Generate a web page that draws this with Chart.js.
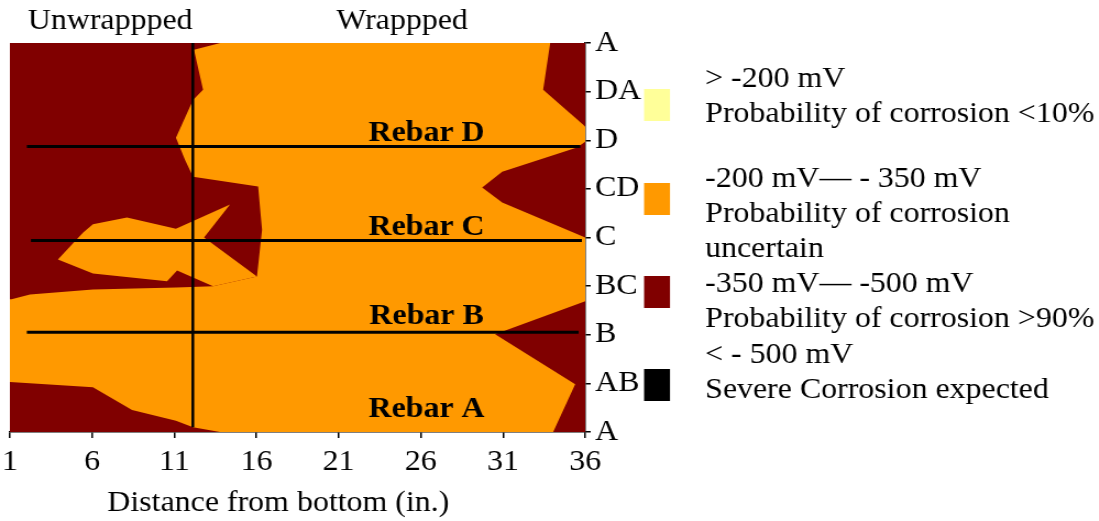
<!DOCTYPE html>
<html>
<head>
<meta charset="utf-8">
<script src="https://cdn.jsdelivr.net/npm/chart.js@4.4.1/dist/chart.umd.min.js"></script>
<style>
  html,body{margin:0;padding:0;background:#fff;overflow:hidden}
  #wrap{position:absolute;left:0;top:0;width:999px;height:521px;transform:scaleX(1.1);transform-origin:0 0}
  #warm{position:absolute;left:-9999px;top:0;font-family:"Liberation Serif";font-size:29px}
  #warm b{font-weight:bold}
</style>
</head>
<body>
<div id="warm">Aa <b>Bb</b></div>
<div id="wrap"><canvas id="ch" width="999" height="521"></canvas></div>
<script>
const F = '"Liberation Serif", "Times New Roman", Times, serif';
const ORANGE = '#FF9900', RED = '#800000';

// axes
const xTicks = [1, 6, 11, 16, 21, 26, 31, 36];
const yTickLabels = ['A', 'AB', 'B', 'BC', 'C', 'CD', 'D', 'DA', 'A'];

// contour outlines, [distance (in.), row] — row 0 = bottom A, 8 = top A
const redTopLeft = [[1,8],[13.8,8],[12.2,7.86],[12.75,7.04],[12.14,6.83],[11.1,6.05],[11.65,5.6],[12.14,5.25],
  [16.1,5.05],[16.34,4.16],[16.03,3.2],[13.36,3.0],[11.1,2.97],[6.05,2.93],[2.22,2.83],[1.1,2.73],[1,2.73]];
const orangeTongue = [[3.92,3.55],[5.44,4.1],[6.05,4.27],[8.12,4.41],[11.1,4.18],[14.39,4.68],[12.81,4.0],
  [16.03,3.2],[13.36,3.0],[11.17,3.32],[10.56,3.1],[6.05,3.26]];
const redBottomLeft = [[1,1.03],[6.05,0.92],[8.43,0.45],[11.1,0.23],[12.14,0.1],[13.78,0],[1,0]];
const redTopRight = [[33.87,8],[33.44,7.04],[35.88,6.32],[36,6.28],[36,8]];
const redMidRight = [[36,5.97],[35.5,5.85],[30.95,5.35],[29.73,5.03],[30.95,4.72],[36,4.0]];
const redLowRight = [[36,2.69],[30.52,2.01],[35.39,0.98],[34.05,0],[36,0]];

// rebar lines (B, C, D) and wrap boundary
const rebarLineY = [2.05, 3.94, 5.87];
const rebarLineFrom = [2.03, 2.28, 2.03];
const rebarLineTo = [35.6, 35.8, 35.7];
const wrapX = 12.13;
const wrapFrom = 0.1, wrapTo = 8;

const rebarNames = ['Rebar A', 'Rebar B', 'Rebar C', 'Rebar D'];
const rebarLabelY = [0.31, 2.22, 4.05, 5.98];
const rebarLabelX = 26.35;

const legendColors = ['#FFFF99', ORANGE, RED, '#000000'];
const legendLines = [
  ['> -200 mV', 'Probability of corrosion <10%'],
  ['-200 mV\u2014 - 350 mV', 'Probability of corrosion', 'uncertain'],
  ['-350 mV\u2014 -500 mV', 'Probability of corrosion >90%'],
  ['< - 500 mV', 'Severe Corrosion expected']
];

const pts = a => a.map(([x, y]) => ({x, y}));
const poly = (a, color, order) => ({data: pts(a), backgroundColor: color, borderColor: 'rgba(0,0,0,0)',
  borderWidth: 0, pointRadius: 0, fill: 'shape', tension: 0, order});
const seg = (a, w, order) => ({data: pts(a), borderColor: '#000', borderWidth: w, pointRadius: 0, fill: false, order});

const datasets = [
  poly([[1,0],[36,0],[36,8],[1,8]], ORANGE, 10),
  poly(redTopLeft, RED, 8),
  poly(redBottomLeft, RED, 8),
  poly(redTopRight, RED, 8),
  poly(redMidRight, RED, 8),
  poly(redLowRight, RED, 8),
  poly(orangeTongue, ORANGE, 6),
  ...rebarLineY.map((y, i) => seg([[rebarLineFrom[i], y], [rebarLineTo[i], y]], 3, 2)),
  seg([[wrapX, wrapTo], [wrapX, wrapFrom]], 2.5, 2)
];

const annot = {
  id: 'annot',
  afterDraw(c) {
    const {ctx, scales: {x, y}} = c;
    ctx.save();
    ctx.fillStyle = '#000';
    ctx.textAlign = 'center';
    ctx.textBaseline = 'alphabetic';
    ctx.font = 'bold 29px ' + F;
    rebarNames.forEach((n, i) => ctx.fillText(n, x.getPixelForValue(rebarLabelX), y.getPixelForValue(rebarLabelY[i])));
    ctx.font = '29px ' + F;
    ctx.fillText('Unwrappped', x.getPixelForValue(7.1), 29);
    ctx.fillText('Wrappped', x.getPixelForValue(24.86), 29);
    ctx.fillText('Distance from bottom (in.)', 253, 511);
    // legend
    const tops = [89, 183, 276, 369];
    const base = [[87, 122], [187, 222, 257], [292, 327], [363, 398]];
    ctx.textAlign = 'left';
    legendColors.forEach((col, i) => {
      ctx.fillStyle = col;
      ctx.fillRect(585.5, tops[i], 23.6, 32);
      ctx.fillStyle = '#000';
      legendLines[i].forEach((t, j) => ctx.fillText(t, 641, base[i][j]));
    });
    ctx.restore();
  }
};

function draw() {
  new Chart(document.getElementById('ch'), {
    type: 'line',
    data: {datasets},
    options: {
      responsive: false,
      animation: false,
      events: [],
      layout: {padding: {left: 9, top: 43, right: 408, bottom: 0}},
      plugins: {legend: {display: false}, tooltip: {enabled: false}},
      scales: {
        x: {
          type: 'linear', min: 1, max: 36,
          afterBuildTicks: s => { s.ticks = xTicks.map(v => ({value: v})); },
          afterFit: s => { s.height = 89; },
          grid: {drawOnChartArea: false, drawTicks: true, tickLength: 6, color: '#000', lineWidth: 1.5},
          border: {color: '#000', width: 1.5},
          ticks: {color: '#000', font: {family: F, size: 29, lineHeight: 1.6}, padding: 1.5, maxRotation: 0, autoSkip: false}
        },
        y: {
          type: 'linear', position: 'right', min: 0, max: 8,
          afterFit: s => { s.width = 59; },
          grid: {drawOnChartArea: false, drawTicks: true, tickLength: 5, color: '#000', lineWidth: 1.5},
          border: {color: '#000', width: 1.5},
          ticks: {stepSize: 1, color: '#000', font: {family: F, size: 29}, padding: 4, callback: v => yTickLabels[v]}
        }
      }
    },
    plugins: [annot]
  });
}

Promise.all([
  document.fonts.load('29px "Liberation Serif"'),
  document.fonts.load('bold 29px "Liberation Serif"')
]).then(draw, draw);
</script>
</body>
</html>
